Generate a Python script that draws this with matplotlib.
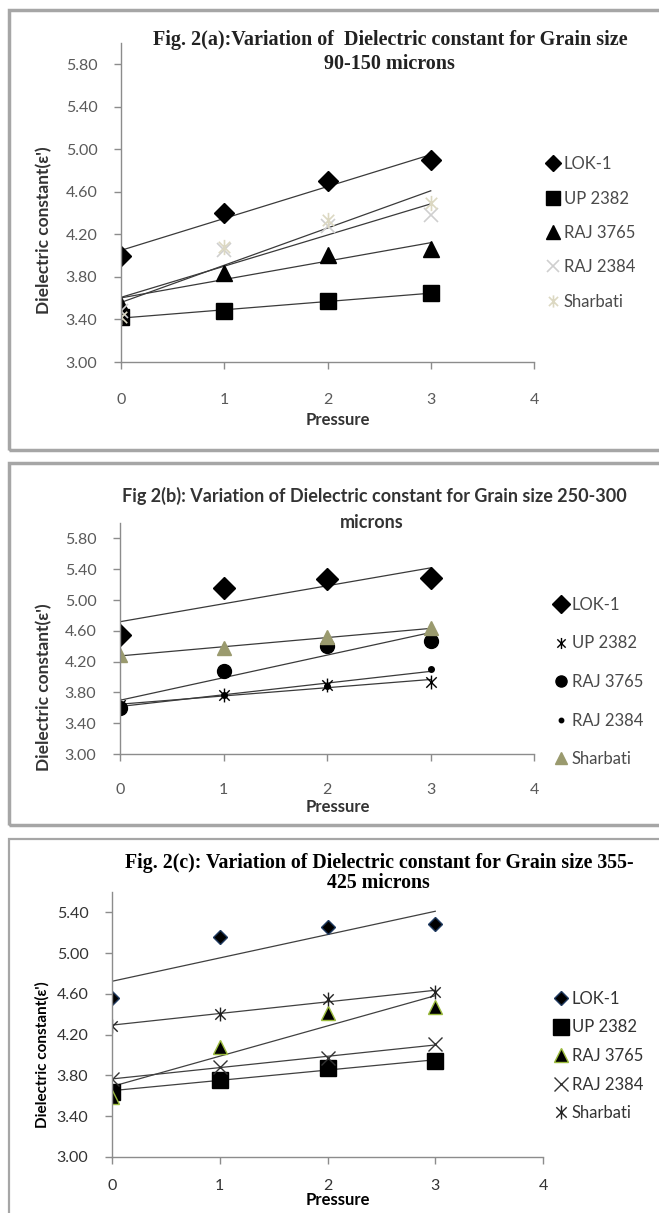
import numpy as np
import matplotlib
matplotlib.use('Agg')
import matplotlib.pyplot as plt
from matplotlib.path import Path
from matplotlib.patches import Rectangle

# Data
pressure = [0, 1, 2, 3]
varieties = ['LOK-1', 'UP 2382', 'RAJ 3765', 'RAJ 2384', 'Sharbati']

# Fig 2(a): grain size 90-150 microns
a_lok1 = [4.00, 4.40, 4.70, 4.90]
a_up2382 = [3.42, 3.48, 3.57, 3.65]
a_raj3765 = [3.54, 3.84, 4.01, 4.06]
a_raj2384 = [3.48, 4.05, 4.28, 4.38]
a_sharbati = [3.42, 4.08, 4.34, 4.50]

# Fig 2(b): grain size 250-300 microns
b_lok1 = [4.55, 5.16, 5.27, 5.29]
b_up2382 = [3.63, 3.76, 3.90, 3.94]
b_raj3765 = [3.60, 4.08, 4.40, 4.47]
b_raj2384 = [3.63, 3.77, 3.88, 4.10]
b_sharbati = [4.28, 4.38, 4.52, 4.63]

# Fig 2(c): grain size 355-425 microns
c_lok1 = [4.56, 5.16, 5.26, 5.29]
c_up2382 = [3.64, 3.76, 3.87, 3.94]
c_raj3765 = [3.59, 4.08, 4.41, 4.47]
c_raj2384 = [3.77, 3.88, 3.97, 4.11]
c_sharbati = [4.29, 4.40, 4.55, 4.62]

W, H = 659, 1213
SANS = 'Lato'
SERIF = 'Liberation Serif'

# excel style asterisk: vertical bar plus an x
star = Path([(0, -1), (0, 1), (-0.75, -0.75), (0.75, 0.75), (-0.75, 0.75), (0.75, -0.75)],
            [Path.MOVETO, Path.LINETO] * 3)


def fx(x):
    return x / W


def fy(y):
    return 1 - y / H


def axrect(l, t, r, b):
    return [l / W, 1 - b / H, (r - l) / W, (b - t) / H]


fig = plt.figure(figsize=(W / 100, H / 100), dpi=100)
fig.patch.set_facecolor('white')

# panel frames
for (t, b, lw) in [(10, 450, 2.5), (463, 825, 2.5), (839, 1230, 1.6)]:
    fig.patches.append(Rectangle((fx(9), fy(b)), fx(700), fy(t) - fy(b), transform=fig.transFigure,
                                 fill=False, edgecolor='#a6a6a6', linewidth=lw))


def draw_panel(ax, series, styles, ymax, ytop_tick, tick_color, xpad, ypad, line_color):
    handles = []
    for values, st in zip(series, styles):
        h, = ax.plot(pressure, values, linestyle='none', **st)
        handles.append(h)
        # linear trendline over the measured range
        k, c = np.polyfit(pressure, values, 1)
        xs = np.array([pressure[0], pressure[-1]])
        ax.plot(xs, k * xs + c, color=line_color, linewidth=0.9, zorder=1)
    ax.set_xlim(0, 4)
    ax.set_ylim(3.0, ymax)
    ax.set_xticks([0, 1, 2, 3, 4])
    ax.set_yticks(np.arange(3.0, ytop_tick + 0.01, 0.4))
    ax.set_yticklabels(['%.2f' % v for v in np.arange(3.0, ytop_tick + 0.01, 0.4)])
    for s in ['top', 'right']:
        ax.spines[s].set_visible(False)
    for s in ['left', 'bottom']:
        ax.spines[s].set_color('#8c8c8c')
        ax.spines[s].set_linewidth(1.0)
    ax.tick_params(axis='both', direction='out', length=5, width=1, color='#8c8c8c',
                   labelcolor=tick_color, labelsize=11.5)
    ax.tick_params(axis='x', pad=xpad)
    ax.tick_params(axis='y', pad=ypad)
    for lab in ax.get_xticklabels() + ax.get_yticklabels():
        lab.set_family(SANS)
    return handles


def add_legend(ax, handles, x, yc, spacing, color, mscale):
    leg = ax.legend(handles, varieties, loc='center left', bbox_to_anchor=(fx(x), fy(yc)),
                    bbox_transform=fig.transFigure, frameon=False, handlelength=0.6,
                    handletextpad=0.35, labelspacing=spacing, borderpad=0, borderaxespad=0,
                    markerscale=mscale, prop={'family': SANS, 'size': 12})
    for t in leg.get_texts():
        t.set_color(color)


# ---- Fig 2(a) ----
ax1 = fig.add_axes(axrect(121, 43, 534, 362))
styles_a = [
    dict(marker='D', markersize=10, color='black'),
    dict(marker='s', markersize=12, color='black'),
    dict(marker='^', markersize=12, color='black'),
    dict(marker='x', markersize=10, color='#cfcfcf', markeredgewidth=1.2),
    dict(marker=star, markersize=11, color='#dcd8c2', markerfacecolor='none', markeredgewidth=1.2),
]
h1 = draw_panel(ax1, [a_lok1, a_up2382, a_raj3765, a_raj2384, a_sharbati], styles_a,
                6.0, 5.8, '#5a5a5a', 17, 12, '#3a3a3a')
add_legend(ax1, h1, 548, 233, 1.1, '#4a4a4a', 0.8)
fig.text(fx(390), fy(40), 'Fig. 2(a):Variation of  Dielectric constant for Grain size',
         ha='center', va='center', family=SERIF, fontweight='bold', fontsize=14.5, color='#222222')
fig.text(fx(389), fy(64), '90-150 microns', ha='center', va='center', family=SERIF,
         fontweight='bold', fontsize=14.5, color='#222222')
fig.text(fx(44), fy(230), "Dielectric constant(\u03b5')", rotation=90, ha='center', va='center',
         family=SANS, fontweight='bold', fontsize=12.5, color='#333333')
fig.text(fx(338), fy(420), 'Pressure', ha='center', va='center', family=SANS,
         fontweight='bold', fontsize=12, color='#333333')

# ---- Fig 2(b) ----
ax2 = fig.add_axes(axrect(120, 523, 534, 754))
styles_b = [
    dict(marker='D', markersize=11, color='black'),
    dict(marker=star, markersize=10, color='black', markerfacecolor='none', markeredgewidth=1.0),
    dict(marker='o', markersize=10, color='black'),
    dict(marker='o', markersize=4, color='black'),
    dict(marker='^', markersize=10, color='#9a9a6e'),
]
h2 = draw_panel(ax2, [b_lok1, b_up2382, b_raj3765, b_raj2384, b_sharbati], styles_b,
                6.0, 5.8, '#5a5a5a', 16, 12, '#3a3a3a')
add_legend(ax2, h2, 556, 682, 1.35, '#4a4a4a', 0.8)
fig.text(fx(374), fy(496), 'Fig 2(b): Variation of Dielectric constant for Grain size 250-300',
         ha='center', va='center', family=SANS, fontweight='bold', fontsize=13, color='#333333')
fig.text(fx(372), fy(522), 'microns', ha='center', va='center', family=SANS,
         fontweight='bold', fontsize=13, color='#333333')
fig.text(fx(44), fy(687), "Dielectric constant(\u03b5')", rotation=90, ha='center', va='center',
         family=SANS, fontweight='bold', fontsize=12.5, color='#333333')
fig.text(fx(338), fy(807), 'Pressure', ha='center', va='center', family=SANS,
         fontweight='bold', fontsize=12, color='#333333')

# ---- Fig 2(c) ----
ax3 = fig.add_axes(axrect(112, 892, 543, 1157))
styles_c = [
    dict(marker='D', markersize=7, color='black', markeredgecolor='#1f3a60'),
    dict(marker='s', markersize=11, color='black'),
    dict(marker='^', markersize=10, color='black', markeredgecolor='#9bbb3c'),
    dict(marker='x', markersize=10, color='#333333', markeredgewidth=1.0),
    dict(marker=star, markersize=10, color='#222222', markerfacecolor='none', markeredgewidth=1.0),
]
h3 = draw_panel(ax3, [c_lok1, c_up2382, c_raj3765, c_raj2384, c_sharbati], styles_c,
                5.6, 5.4, '#333333', 11, 12, '#404040')
add_legend(ax3, h3, 556, 1056, 0.75, '#333333', 1.0)
fig.text(fx(379), fy(863), 'Fig. 2(c): Variation of Dielectric constant for Grain size 355-',
         ha='center', va='center', family=SERIF, fontweight='bold', fontsize=14.3, color='black')
fig.text(fx(378), fy(883), '425 microns', ha='center', va='center', family=SERIF,
         fontweight='bold', fontsize=14.3, color='black')
fig.text(fx(42), fy(1055), "Dielectric constant(\u03b5')", rotation=90, ha='center', va='center',
         family=SANS, fontweight='bold', fontsize=11, color='black')
fig.text(fx(338), fy(1200), 'Pressure', ha='center', va='center', family=SANS,
         fontweight='bold', fontsize=12, color='black')

fig.savefig('out.png', dpi=100)
